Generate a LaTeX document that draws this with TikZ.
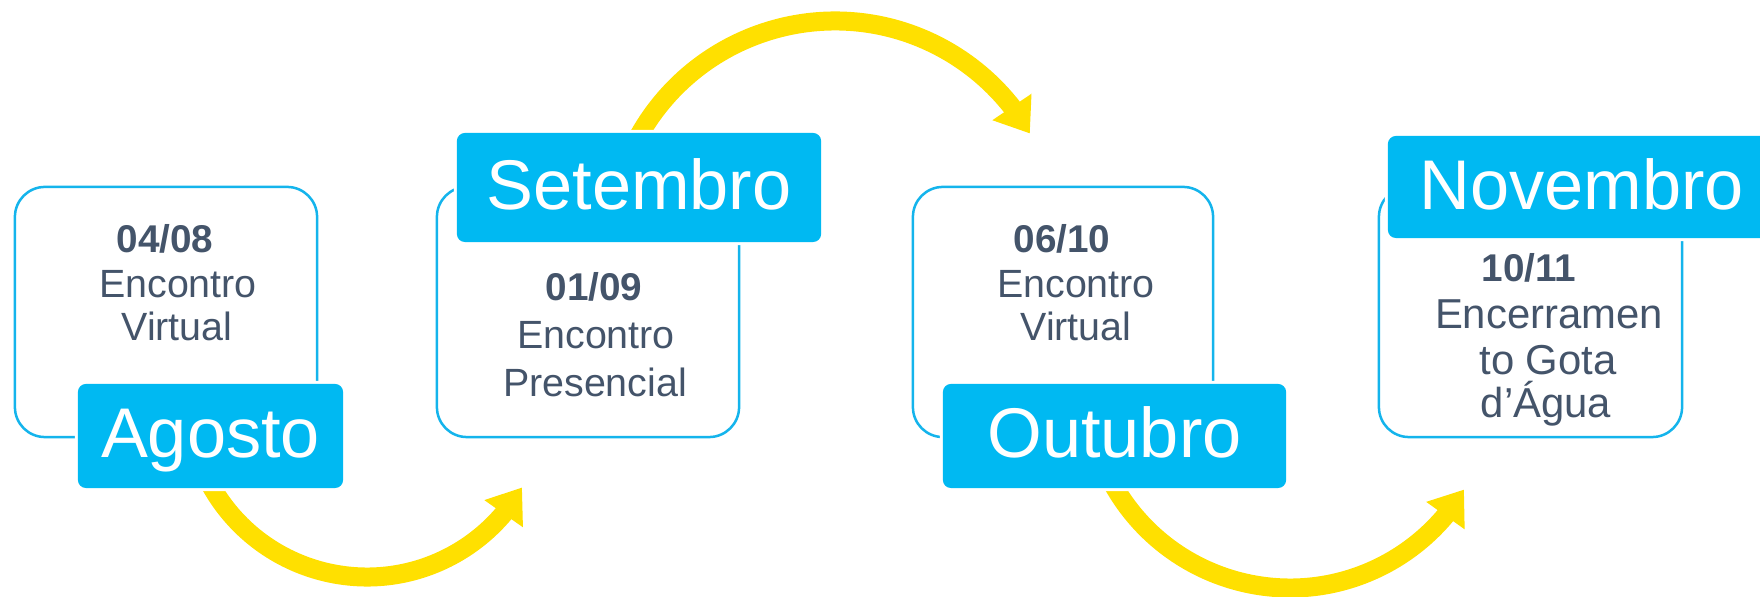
\documentclass[tikz,border=0pt]{standalone}
\usepackage{fontspec}
\setmainfont{Liberation Sans}
\usetikzlibrary{arrows.meta,bending}
\pgfdeclarelayer{background}
\pgfsetlayers{background,main}
\definecolor{lblfill}{HTML}{00B9F2}
\definecolor{boxline}{HTML}{14B4EC}
\definecolor{txtgray}{HTML}{44546A}
\definecolor{arrowgold}{HTML}{FFE000}
\begin{document}
\begin{tikzpicture}[x=0.01cm,y=0.01cm,
  evbox/.style={draw=boxline, line width=0.025cm, rounded corners=0.3cm, fill=white, minimum height=2.5cm, inner sep=0},
  month/.style={fill=lblfill, rounded corners=0.08cm, preaction={draw=white, line width=0.06cm}, text=white, font=\fontsize{20}{24}\selectfont, inner sep=0, anchor=base},
  body/.style={text=txtgray, font=\fontsize{11.2}{13}\selectfont, inner sep=0, anchor=base},
  bodybig/.style={body, font=\fontsize{11.9}{14}\selectfont},
  date/.style={body, font=\fontsize{11}{13}\selectfont\bfseries},
  flow/.style={draw=arrowgold, line width=0.19cm, -{Triangle[width=0.45cm,length=0.32cm]}}
]
\useasboundingbox (0,0) rectangle (1760,597);
\clip (0,0) rectangle (1760,597);

% event boxes
\node[evbox, minimum width=3.02cm] (box1) at (166,285) {};
\node[evbox, minimum width=3.02cm] (box2) at (588,285) {};
\node[evbox, minimum width=3.00cm] (box3) at (1063,285) {};
\node[evbox, minimum width=3.03cm] (box4) at (1530.5,285) {};

% texts
\node[date] (d1) at (165,344) {04/08};
\node[body] (e1) at (178,299) {Encontro};
\node[body] (v1) at (177,256) {Virtual};

\node[date] (d2) at (594,296) {01/09};
\node[body] (e2) at (596,248) {Encontro};
\node[body] (p2) at (595,200) {Presencial};

\node[date] (d3) at (1062,344) {06/10};
\node[body] (e3) at (1076,299) {Encontro};
\node[body] (v3) at (1076,256) {Virtual};

\node[date] (d4) at (1529,315) {10/11};
\node[bodybig] (e4) at (1549,268) {Encerramen};
\node[bodybig] (g4) at (1548,222) {to Gota};
\node[bodybig] (a4) at (1546,179) {d’Água};

% month labels
\node[month, minimum width=2.65cm, text height=0.74cm, text depth=0.30cm] (ago) at (210.5,139) {Agosto};
\node[month, minimum width=3.64cm, text height=0.77cm, text depth=0.32cm] (set) at (639,387) {Setembro};
\node[month, minimum width=3.43cm, text height=0.74cm, text depth=0.30cm] (out) at (1114.5,139) {Outubro};
\node[month, minimum width=3.87cm, text height=0.74cm, text depth=0.28cm] (nov) at (1581.5,387) {Novembro};

% arrows
\coordinate (c1) at (367,199);
\coordinate (c2) at (835,351);
\coordinate (c3) at (1290,212);
\begin{pgfonlayer}{background}
\draw[flow] ([shift={(208:179)}]c1) arc[start angle=208, end angle=330, radius=179];
\draw[flow] ([shift={(152:225)}]c2) arc[start angle=152, end angle=30, radius=225];
\draw[flow] ([shift={(208:203)}]c3) arc[start angle=208, end angle=329, radius=203];
\end{pgfonlayer}
\end{tikzpicture}
\end{document}
